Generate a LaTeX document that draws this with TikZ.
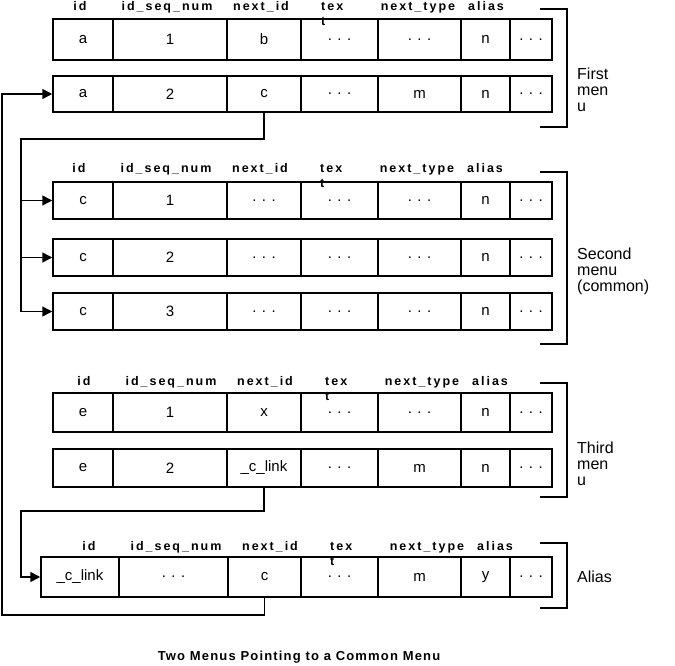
\documentclass[tikz,border=0pt]{standalone}
\usepackage{fontspec}
\setmainfont{Liberation Sans}
\newfontfamily\hdrfont[LetterSpace=16]{Liberation Sans}
\newfontfamily\capfont[LetterSpace=9]{Liberation Sans}
\usetikzlibrary{arrows.meta}

\newcommand{\dd}{.\hspace{5.5pt}.\hspace{5.5pt}.}
\def\colm{{53,113,227,301,378,461,510,552}}
\def\colz{{41,119,228,301,378,461,510,552}}

% one table row: name, columns, top, bottom, cell texts
\newcommand{\tabrow}[5]{%
  \foreach \celltxt [count=\cellno] in {#5} {
    \pgfmathsetmacro\xl{#2[\cellno-1]}
    \pgfmathsetmacro\xr{#2[\cellno]}
    \node[cell,minimum width={\xr-\xl},minimum height={#4-#3}] (#1\cellno) at ({(\xl+\xr)/2},{(#3+#4)/2}) {\celltxt};
  }}
% column titles: name, baseline, shift
\newcommand{\hdrrow}[3]{%
  \foreach \htxt/\hx [count=\hno] in {id/80,id\_seq\_num/167,next\_id/261,next\_type/418,alias/486}
    \node[hdr] (#1\hno) at (\hx+#3,#2) {\htxt};
  \node[hdr,anchor=base west,align=left] (#1t) at (321+#3,#2+15) {tex\\t};
}

\begin{document}
\begin{tikzpicture}[x=1pt,y=-1pt,
  cell/.style={draw,line width=1.5pt,inner sep=0pt,font=\fontsize{15}{17}\selectfont},
  hdr/.style={anchor=base,inner sep=0pt,font=\hdrfont\bfseries\fontsize{12.5}{15}\selectfont},
  lbl/.style={anchor=base west,align=left,inner sep=0pt,font=\fontsize{16}{16}\selectfont},
  brk/.style={line width=1.5pt},
  arr/.style={-{Triangle[length=10pt,width=10pt]},line width=1.5pt}]
\useasboundingbox (0,0) rectangle (675,666);

% first menu
\hdrrow{ha}{11}{0}
\tabrow{ra}{\colm}{19}{60}{a,1,b,\dd,\dd,n,\dd}
\tabrow{rb}{\colm}{76}{112}{a,2,c,\dd,m,n,\dd}
\draw[brk] (540,9) -| (567,127) -- (540,127);
\node[lbl] (lbl1) at (577,112) {First\\men\\u};

% second menu
\hdrrow{hb}{173}{-1}
\tabrow{rc}{\colm}{182}{219}{c,1,\dd,\dd,\dd,n,\dd}
\tabrow{rd}{\colm}{239}{276}{c,2,\dd,\dd,\dd,n,\dd}
\tabrow{re}{\colm}{293}{330}{c,3,\dd,\dd,\dd,n,\dd}
\draw[brk] (540,172) -| (567,344) -- (540,344);
\node[lbl] (lbl2) at (577,291) {Second\\menu\\(common)};

% third menu
\hdrrow{hc}{385}{4}
\tabrow{rf}{\colm}{393}{432}{e,1,x,\dd,\dd,n,\dd}
\tabrow{rg}{\colm}{449}{487}{e,2,\_c\_link,\dd,m,n,\dd}
\draw[brk] (540,383) -| (567,497) -- (540,497);
\node[lbl] (lbl3) at (577,485) {Third\\men\\u};

% alias
\hdrrow{hd}{550}{9}
\tabrow{rh}{\colz}{557}{597}{\_c\_link,\dd,c,\dd,m,y,\dd}
\draw[brk] (540,543) -| (567,608) -- (540,608);
\node[lbl] (lbl4) at (577,582) {Alias};

% links
\coordinate (lp) at (2,615);
\coordinate (sp) at (21,139);
\coordinate (tp) at (21,511);
\draw[arr] (rh3.south) |- (lp) |- (rb1.west);
\draw[arr] (rb3.south) |- (sp) |- (rc1.west);
\draw[arr] (sp) |- (rd1.west);
\draw[arr] (sp) |- (re1.west);
\draw[arr] (rg3.south) |- (tp) |- (rh1.west);

\node[anchor=base,inner sep=0pt,font=\capfont\bfseries\fontsize{13}{15}\selectfont] (cap) at (299,660) {Two Menus Pointing to a Common Menu};
\end{tikzpicture}
\end{document}
